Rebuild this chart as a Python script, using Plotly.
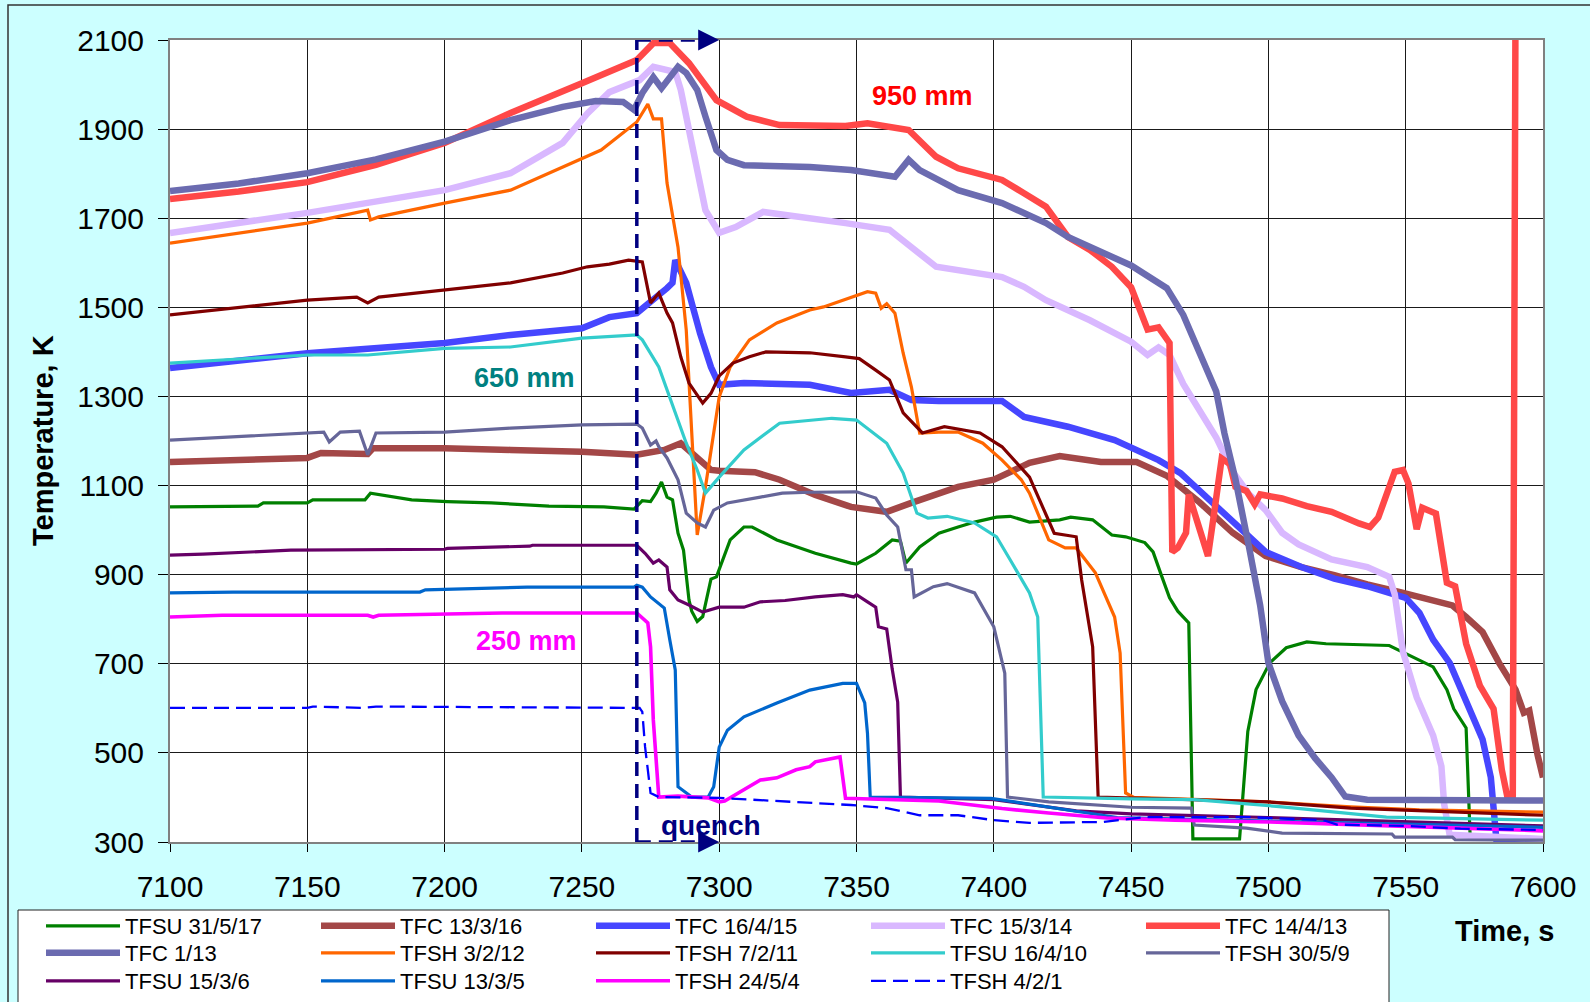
import plotly.graph_objects as go

# ---------------- data (time, s / temperature, K) ----------------
tfsu_31_5_17_t = [7100, 7132, 7134, 7150, 7152, 7171, 7173, 7180, 7188, 7201, 7217, 7238, 7258, 7269, 7272, 7275, 7277, 7279, 7281, 7283, 7285, 7287, 7289, 7290, 7292, 7294, 7297, 7299, 7304, 7309, 7312, 7321, 7335, 7348, 7350, 7357, 7363, 7366, 7368, 7373, 7380, 7387, 7393, 7401, 7406, 7413, 7424, 7428, 7436, 7443, 7448, 7455, 7458, 7461, 7464, 7467, 7471, 7472.5, 7489.5, 7492.5, 7495.5, 7500.5, 7506.5, 7514, 7521, 7544, 7551.5, 7560, 7565, 7567.5, 7572, 7573.5, 7600]
tfsu_31_5_17_T = [1052, 1054, 1061, 1061, 1068, 1068, 1083, 1076, 1068, 1064, 1061, 1054, 1052, 1047, 1066, 1064, 1083, 1108, 1074, 1068, 993, 955, 843, 818, 795, 806, 890, 895, 978, 1007, 1007, 978, 948, 926, 924, 948, 978, 975, 926, 962, 993, 1007, 1018, 1029, 1031, 1018, 1023, 1029, 1023, 989, 985, 972, 951, 899, 848, 818, 792, 307, 307, 548, 642, 702, 736, 749, 745, 741, 719, 693, 642, 599, 556, 307, 305]

tfc_13_3_16_t = [7100, 7150, 7155, 7172, 7174, 7200, 7224, 7250, 7270, 7280, 7286, 7290, 7297, 7300, 7313, 7322, 7335, 7348, 7361, 7370, 7387, 7400, 7413, 7424, 7439, 7452, 7463, 7475, 7487, 7499, 7512, 7524, 7536, 7548, 7560, 7567, 7572, 7578, 7584, 7590, 7593, 7595, 7598, 7600]
tfc_13_3_16_T = [1153, 1162, 1173, 1171, 1184, 1184, 1180, 1176, 1169, 1180, 1195, 1173, 1135, 1133, 1130, 1113, 1079, 1052, 1041, 1061, 1097, 1113, 1151, 1166, 1153, 1153, 1122, 1062, 994, 942, 917, 899, 878, 861, 844, 831, 805, 771, 702, 642, 590, 595, 496, 445]

tfc_16_4_15_t = [7100, 7150, 7200, 7224, 7250, 7260, 7270, 7276, 7281, 7283, 7284, 7288, 7292, 7293, 7297, 7300, 7309, 7333, 7348, 7362, 7370, 7380, 7403, 7411, 7427, 7444, 7460, 7468, 7475, 7487, 7499, 7512, 7524, 7536, 7544, 7550, 7555, 7560, 7566, 7572, 7578, 7581, 7582, 7583, 7600]
tfc_16_4_15_T = [1364, 1397, 1420, 1438, 1453, 1478, 1487, 1516, 1543, 1555, 1606, 1555, 1465, 1442, 1366, 1326, 1330, 1326, 1308, 1315, 1292, 1290, 1290, 1254, 1232, 1202, 1157, 1128, 1088, 1020, 951, 917, 891, 874, 861, 848, 814, 754, 702, 616, 530, 445, 385, 307, 305]

tfc_15_3_14_t = [7100, 7150, 7200, 7224, 7243, 7252, 7260, 7271, 7276, 7281, 7284, 7286, 7290, 7295, 7300, 7306, 7316, 7321, 7333, 7346, 7362, 7370, 7379, 7403, 7411, 7419, 7435, 7450, 7456, 7460, 7464, 7469, 7475, 7481, 7487, 7493, 7499, 7505, 7511, 7523, 7536, 7544, 7546, 7549, 7554, 7560, 7563, 7564, 7566, 7600]
tfc_15_3_14_T = [1667, 1712, 1763, 1801, 1869, 1935, 1983, 2010, 2040, 2033, 2028, 1988, 1860, 1718, 1667, 1680, 1714, 1710, 1703, 1689, 1674, 1635, 1591, 1568, 1546, 1516, 1471, 1423, 1393, 1410, 1393, 1328, 1268, 1208, 1131, 1080, 1045, 994, 968, 934, 917, 895, 856, 727, 625, 539, 470, 385, 316, 307]

tfc_14_4_13_t = [7100, 7125, 7150, 7175, 7200, 7224, 7250, 7270, 7276, 7282, 7289, 7299, 7310, 7322, 7346, 7354, 7369, 7379, 7387, 7403, 7411, 7419, 7427, 7435, 7443, 7450, 7456, 7460, 7464, 7465, 7467, 7470, 7471, 7473, 7478, 7480, 7483, 7486, 7488, 7492, 7495, 7497, 7505, 7514, 7523, 7533, 7537, 7540, 7543, 7546, 7549, 7551, 7554, 7556, 7561, 7565, 7568, 7572, 7577, 7582, 7585, 7587, 7589, 7590]
tfc_14_4_13_T = [1743, 1760, 1781, 1820, 1869, 1936, 2003, 2055, 2093, 2093, 2048, 1965, 1928, 1909, 1907, 1913, 1898, 1838, 1812, 1786, 1756, 1726, 1658, 1629, 1591, 1545, 1450, 1455, 1420, 951, 960, 994, 1080, 1037, 942, 1028, 1161, 1148, 1097, 1088, 1058, 1080, 1071, 1054, 1041, 1015, 1007, 1028, 1080, 1131, 1135, 1105, 1002, 1050, 1037, 882, 874, 745, 651, 599, 462, 402, 402, 2200]

tfc_1_13_t = [7100, 7125, 7150, 7175, 7200, 7224, 7243, 7255, 7265, 7269, 7272, 7276, 7279, 7283, 7285, 7288, 7292, 7295, 7299, 7303, 7309, 7333, 7348, 7364, 7369, 7373, 7387, 7403, 7419, 7427, 7435, 7450, 7463, 7469, 7475, 7481, 7484, 7488, 7493, 7497, 7500, 7505, 7511, 7517, 7523, 7528, 7536, 7600]
tfc_1_13_T = [1761, 1778, 1801, 1832, 1872, 1920, 1950, 1963, 1961, 1943, 1981, 2017, 1992, 2028, 2040, 2026, 1988, 1928, 1853, 1831, 1819, 1815, 1808, 1793, 1831, 1808, 1763, 1734, 1689, 1658, 1635, 1594, 1543, 1483, 1397, 1311, 1217, 1114, 960, 831, 702, 616, 539, 488, 445, 402, 395, 393]

tfsh_3_2_12_t = [7100, 7150, 7172, 7173, 7176, 7200, 7224, 7243, 7257, 7270, 7274, 7276, 7279, 7281, 7285, 7288, 7292, 7295, 7300, 7304, 7311, 7321, 7333, 7338, 7354, 7357, 7359, 7361, 7364, 7367, 7370, 7373, 7380, 7387, 7396, 7403, 7410, 7413, 7420, 7426, 7430, 7437, 7444, 7446, 7448, 7451, 7500, 7530, 7555, 7600]
tfsh_3_2_12_T = [1644, 1689, 1718, 1696, 1703, 1734, 1763, 1815, 1853, 1916, 1956, 1923, 1923, 1779, 1635, 1449, 989, 1097, 1299, 1366, 1427, 1465, 1494, 1501, 1535, 1532, 1498, 1508, 1487, 1397, 1321, 1218, 1220, 1220, 1195, 1157, 1113, 1083, 978, 960, 960, 904, 805, 724, 410, 400, 390, 379, 372, 367]

tfsh_7_2_11_t = [7100, 7150, 7168, 7172, 7176, 7200, 7224, 7243, 7252, 7260, 7267, 7272, 7275, 7278, 7281, 7283, 7286, 7289, 7294, 7297, 7300, 7305, 7311, 7317, 7333, 7346, 7351, 7357, 7362, 7367, 7374, 7382, 7395, 7403, 7406, 7413, 7422, 7430, 7432, 7436, 7438, 7500, 7530, 7600]
tfsh_7_2_11_T = [1483, 1516, 1523, 1510, 1523, 1539, 1555, 1577, 1591, 1597, 1606, 1602, 1510, 1532, 1487, 1465, 1389, 1330, 1285, 1307, 1346, 1375, 1389, 1400, 1398, 1389, 1385, 1359, 1337, 1263, 1218, 1232, 1218, 1187, 1166, 1119, 993, 985, 888, 738, 401, 390, 376, 360]

tfsu_16_4_10_t = [7100, 7150, 7172, 7200, 7224, 7250, 7270, 7272, 7278, 7282, 7288, 7292, 7295, 7300, 7309, 7322, 7341, 7350, 7361, 7367, 7372, 7376, 7383, 7393, 7401, 7406, 7413, 7416, 7418, 7450, 7473, 7505, 7543, 7600]
tfsu_16_4_10_T = [1375, 1393, 1393, 1408, 1411, 1431, 1438, 1427, 1366, 1299, 1195, 1135, 1083, 1119, 1180, 1240, 1251, 1247, 1195, 1128, 1038, 1027, 1031, 1016, 985, 933, 859, 805, 401, 397, 395, 379, 356, 349]

tfsh_30_5_9_t = [7100, 7150, 7156, 7158, 7162, 7169, 7172, 7175, 7200, 7224, 7250, 7270, 7272, 7275, 7277, 7278, 7281, 7285, 7288, 7292, 7295, 7298, 7303, 7315, 7323, 7333, 7350, 7357, 7361, 7365, 7368, 7370, 7371, 7378, 7383, 7393, 7400, 7404, 7405, 7420, 7450, 7472, 7473, 7492, 7505, 7545, 7546, 7567, 7568, 7600]
tfsh_30_5_9_T = [1202, 1218, 1220, 1198, 1220, 1222, 1169, 1218, 1220, 1229, 1236, 1238, 1229, 1191, 1200, 1187, 1162, 1113, 1038, 1016, 1007, 1045, 1061, 1074, 1083, 1085, 1086, 1072, 1034, 1007, 911, 911, 850, 873, 880, 859, 783, 679, 401, 390, 378, 376, 338, 331, 320, 318, 311, 311, 305, 304]

tfsu_15_3_6_t = [7100, 7112, 7144, 7200, 7201, 7231, 7232, 7270, 7273, 7276, 7278, 7281, 7282, 7285, 7289, 7294, 7300, 7309, 7315, 7324, 7335, 7345, 7349, 7350, 7354, 7357, 7358, 7361, 7363, 7365, 7366, 7400, 7430, 7450, 7500, 7600]
tfsu_15_3_6_T = [944, 946, 955, 957, 959, 964, 966, 966, 948, 926, 933, 917, 866, 843, 832, 816, 827, 827, 839, 842, 850, 855, 850, 855, 839, 827, 783, 778, 688, 614, 401, 395, 370, 363, 355, 336]

tfsu_13_3_5_t = [7100, 7123, 7191, 7193, 7230, 7269, 7270, 7272, 7275, 7280, 7282, 7284, 7285, 7288, 7290, 7296, 7298, 7300, 7303, 7309, 7321, 7333, 7345, 7350, 7353, 7354, 7355, 7399, 7430, 7445, 7600]
tfsu_13_3_5_T = [859, 861, 861, 866, 872, 872, 876, 872, 850, 825, 754, 686, 424, 410, 401, 401, 424, 513, 551, 581, 612, 641, 656, 656, 612, 544, 401, 398, 370, 355, 333]

tfsh_24_5_4_t = [7100, 7119, 7172, 7174, 7176, 7220, 7221, 7270, 7274, 7275, 7276, 7278, 7285, 7296, 7300, 7302, 7309, 7315, 7321, 7328, 7333, 7335, 7344, 7346, 7380, 7403, 7420, 7441, 7466, 7500, 7550, 7600]
tfsh_24_5_4_T = [805, 809, 809, 805, 809, 812, 814, 814, 792, 738, 574, 401, 403, 399, 390, 392, 417, 439, 444, 462, 469, 480, 491, 398, 392, 375, 365, 354, 349, 345, 335, 325]

tfsh_4_2_1_t = [7100, 7150, 7152, 7160, 7170, 7175, 7250, 7271, 7272, 7273, 7275, 7278, 7300, 7330, 7348, 7361, 7373, 7387, 7400, 7413, 7440, 7455, 7492, 7520, 7525, 7550, 7570, 7600]
tfsh_4_2_1_T = [601, 601, 604, 603, 601, 604, 601, 601, 592, 514, 410, 401, 399, 390, 383, 376, 360, 360, 349, 343, 345, 356, 356, 349, 339, 336, 330, 327]

x_ticks = [7100, 7150, 7200, 7250, 7300, 7350, 7400, 7450, 7500, 7550, 7600]
y_ticks = [300, 500, 700, 900, 1100, 1300, 1500, 1700, 1900, 2100]

quench_start = 7270
quench_arrow_end = 7300

# ---------------- styles ----------------
THICK = 6.5
THIN = 3.2
series = [
    ("TFSU 31/5/17", tfsu_31_5_17_t, tfsu_31_5_17_T, "#008000", THIN, "solid", "legend"),
    ("TFC 13/3/16", tfc_13_3_16_t, tfc_13_3_16_T, "#A34747", THICK, "solid", "legend"),
    ("TFC 16/4/15", tfc_16_4_15_t, tfc_16_4_15_T, "#4646FF", THICK, "solid", "legend"),
    ("TFC 15/3/14", tfc_15_3_14_t, tfc_15_3_14_T, "#D9B8FF", THICK, "solid", "legend"),
    ("TFC 14/4/13", tfc_14_4_13_t, tfc_14_4_13_T, "#FF4848", THICK, "solid", "legend"),
    ("TFC 1/13", tfc_1_13_t, tfc_1_13_T, "#6B6BB0", THICK, "solid", "legend2"),
    ("TFSH 3/2/12", tfsh_3_2_12_t, tfsh_3_2_12_T, "#FF6600", THIN, "solid", "legend2"),
    ("TFSH 7/2/11", tfsh_7_2_11_t, tfsh_7_2_11_T, "#800000", THIN, "solid", "legend2"),
    ("TFSU 16/4/10", tfsu_16_4_10_t, tfsu_16_4_10_T, "#33CCCC", THIN, "solid", "legend2"),
    ("TFSH 30/5/9", tfsh_30_5_9_t, tfsh_30_5_9_T, "#666699", THIN, "solid", "legend2"),
    ("TFSU 15/3/6", tfsu_15_3_6_t, tfsu_15_3_6_T, "#660066", THIN, "solid", "legend3"),
    ("TFSU 13/3/5", tfsu_13_3_5_t, tfsu_13_3_5_T, "#0066CC", THIN, "solid", "legend3"),
    ("TFSH 24/5/4", tfsh_24_5_4_t, tfsh_24_5_4_T, "#FF00FF", 3.6, "solid", "legend3"),
    ("TFSH 4/2/1", tfsh_4_2_1_t, tfsh_4_2_1_T, "#0000FF", 2.3, "15px,7px", "legend3"),
]

FONT = "Liberation Sans, Arial, sans-serif"
W, H = 1590, 1002
ML, MR, MT, MB = 170, 47, 40, 160
PW, PH = W - ML - MR, H - MT - MB


def px_x(p):
    return (p - ML) / PW


def px_y(p):
    return (H - MB - p) / PH


fig = go.Figure()
for name, t, T, color, width, dash, leg in series:
    fig.add_trace(go.Scatter(
        x=t, y=T, mode="lines", name=name,
        line=dict(color=color, width=width, dash=dash),
        legend=leg, hoverinfo="skip",
    ))

legend_common = dict(
    orientation="h", xanchor="left", yanchor="middle",
    x=px_x(41), bgcolor="rgba(0,0,0,0)", borderwidth=0,
    font=dict(family=FONT, size=22, color="black"),
    itemwidth=74, entrywidth=186, entrywidthmode="pixels",
    tracegroupgap=0, traceorder="normal",
)

fig.update_layout(
    width=W, height=H,
    margin=dict(l=ML, r=MR, t=MT, b=MB, autoexpand=False),
    paper_bgcolor="#CCFFFF", plot_bgcolor="white",
    font=dict(family=FONT, color="black"),
    showlegend=True,
    legend=dict(legend_common, y=px_y(926)),
    legend2=dict(legend_common, y=px_y(953)),
    legend3=dict(legend_common, y=px_y(981)),
    xaxis=dict(
        range=[7100, 7600], tickvals=x_ticks, ticktext=[str(v) for v in x_ticks],
        showgrid=True, gridcolor="#1a1a1a", gridwidth=1,
        showline=True, linecolor="#808080", linewidth=2, mirror=True,
        ticks="outside", ticklen=8, tickcolor="black", tickwidth=1,
        tickfont=dict(family=FONT, size=30, color="black"),
        ticklabelstandoff=9, zeroline=False,
    ),
    yaxis=dict(
        range=[300, 2100], tickvals=y_ticks, ticktext=[str(v) for v in y_ticks],
        showgrid=True, gridcolor="#1a1a1a", gridwidth=1,
        showline=True, linecolor="#808080", linewidth=2, mirror=True,
        ticks="outside", ticklen=10, tickcolor="black", tickwidth=1,
        tickfont=dict(family=FONT, size=30, color="black"),
        ticklabelstandoff=8, zeroline=False,
    ),
)

navy = "#000080"
shapes = [
    # outer frame
    dict(type="rect", xref="paper", yref="paper", x0=px_x(8), x1=px_x(1640),
         y0=px_y(5), y1=px_y(1040), line=dict(color="#333333", width=1.5),
         fillcolor="rgba(0,0,0,0)", layer="below"),
    # legend box
    dict(type="rect", xref="paper", yref="paper", x0=px_x(18), x1=px_x(1389),
         y0=px_y(910), y1=px_y(1040), line=dict(color="#222222", width=1),
         fillcolor="white", layer="below"),
    # quench dashed box
    dict(type="line", xref="x", yref="y", x0=quench_start, x1=quench_start, y0=300, y1=2100,
         line=dict(color=navy, width=3.5, dash="14px,8px"), layer="above"),
    dict(type="line", xref="x", yref="y", x0=quench_start, x1=quench_arrow_end - 4, y0=2100, y1=2100,
         line=dict(color=navy, width=3.5, dash="14px,8px"), layer="above"),
    dict(type="line", xref="x", yref="y", x0=quench_start, x1=quench_arrow_end - 4, y0=300, y1=300,
         line=dict(color=navy, width=3.5, dash="14px,8px"), layer="above"),
]
fig.update_layout(shapes=shapes)

ann = [
    dict(x=7374, y=1974, xref="x", yref="y", text="<b>950 mm</b>", showarrow=False,
         font=dict(family=FONT, size=27, color="#FF0000")),
    dict(x=7229, y=1341, xref="x", yref="y", text="<b>650 mm</b>", showarrow=False,
         font=dict(family=FONT, size=27, color="#008080")),
    dict(x=7230, y=751, xref="x", yref="y", text="<b>250 mm</b>", showarrow=False,
         font=dict(family=FONT, size=27, color="#FF00FF")),
    dict(x=7297, y=336, xref="x", yref="y", text="<b>quench</b>", showarrow=False,
         font=dict(family=FONT, size=28, color=navy)),
    dict(x=quench_arrow_end, y=2100, xref="x", yref="y", ax=quench_arrow_end - 6, ay=2100,
         axref="x", ayref="y", text="", showarrow=True, arrowhead=2, arrowsize=1.4,
         arrowwidth=3, arrowcolor=navy),
    dict(x=quench_arrow_end, y=300, xref="x", yref="y", ax=quench_arrow_end - 6, ay=300,
         axref="x", ayref="y", text="", showarrow=True, arrowhead=2, arrowsize=1.4,
         arrowwidth=3, arrowcolor=navy),
    dict(x=px_x(1504), y=px_y(931), xref="paper", yref="paper", text="<b>Time, s</b>",
         xanchor="center", yanchor="middle",
         showarrow=False, font=dict(family=FONT, size=29, color="black")),
    dict(x=px_x(43), y=px_y(441), xref="paper", yref="paper", text="<b>Temperature, K</b>",
         xanchor="center", yanchor="middle",
         textangle=-90, showarrow=False, font=dict(family=FONT, size=29, color="black")),
]
fig.update_layout(annotations=ann)

fig.write_html("out.html")
